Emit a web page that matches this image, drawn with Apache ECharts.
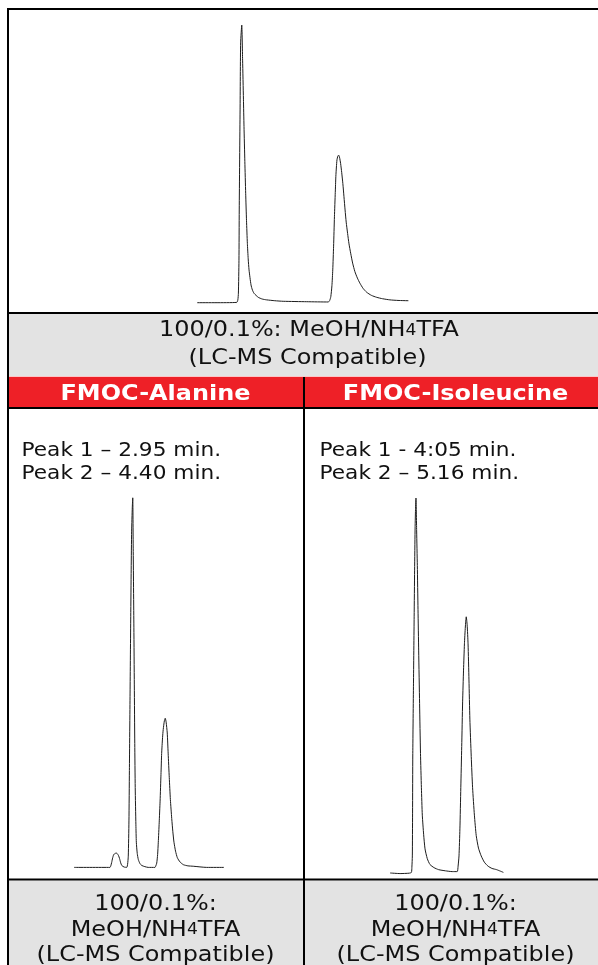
<!DOCTYPE html>
<html>
<head>
<meta charset="utf-8">
<script src="https://cdn.jsdelivr.net/npm/echarts@6/dist/echarts.min.js"></script>
<style>
html,body{margin:0;padding:0;background:#ffffff;}
#chart{width:598px;height:965px;}
</style>
</head>
<body>
<div id="chart"></div>
<script>
// ---- Data ----
// Top chromatogram (arbitrary time units, relative signal)
const topTime   = [1.33, 2.00, 2.74, 2.78, 2.80, 2.82, 2.83, 2.86, 2.88, 2.92, 2.95, 2.98, 3.00, 3.03, 3.06, 3.09, 3.12, 3.15, 3.18, 3.25, 3.30, 3.36, 3.51, 3.65, 3.81, 4.10, 4.40, 5.24, 6.01, 6.06, 6.10, 6.14, 6.17, 6.20, 6.23, 6.26, 6.28, 6.30, 6.32, 6.35, 6.38, 6.41, 6.45, 6.49, 6.53, 6.57, 6.61, 6.65, 6.70, 6.75, 6.81, 6.88, 6.96, 7.05, 7.14, 7.25, 7.38, 7.55, 7.74, 7.95, 8.21, 8.50, 8.87];
const topSignal = [0.0, 0.0, 0.1, 1.0, 3.4, 15.0, 32.8, 68.2, 91.9, 98.2, 85.8, 72.0, 62.3, 50.0, 38.7, 29.0, 21.0, 15.5, 11.6, 6.3, 4.5, 3.3, 1.9, 1.3, 1.0, 0.7, 0.5, 0.35, 0.25, 0.8, 2.1, 6.0, 11.6, 20.0, 30.4, 39.0, 44.6, 48.0, 50.5, 51.8, 52.2, 51.5, 49.3, 46.0, 42.2, 37.5, 32.8, 28.5, 24.5, 20.8, 17.5, 14.0, 11.0, 8.7, 6.9, 5.1, 3.7, 2.6, 1.9, 1.4, 1.0, 0.8, 0.7];

// FMOC-Alanine (minutes, relative signal)
const alaTime   = [0.32, 1.92, 1.96, 2.00, 2.04, 2.09, 2.15, 2.20, 2.24, 2.30, 2.35, 2.40, 2.45, 2.55, 2.67, 2.71, 2.74, 2.77, 2.79, 2.82, 2.85, 2.87, 2.89, 2.92, 2.94, 2.96, 2.99, 3.01, 3.03, 3.05, 3.08, 3.10, 3.14, 3.19, 3.26, 3.34, 3.48, 3.63, 3.93, 3.97, 4.01, 4.05, 4.08, 4.12, 4.16, 4.20, 4.23, 4.27, 4.30, 4.35, 4.39, 4.43, 4.48, 4.52, 4.57, 4.62, 4.68, 4.73, 4.78, 4.85, 4.93, 5.05, 5.20, 5.40, 5.64, 6.24, 7.01];
const alaSignal = [0, 0, 0.4, 1.3, 2.4, 3.3, 3.6, 3.7, 3.6, 3.1, 2.3, 1.2, 0.5, 0.1, 0, 0.8, 2.9, 12.0, 25.0, 45.0, 64.7, 77.0, 86.8, 93.0, 95.4, 82.4, 62.0, 47.1, 32.0, 20.6, 11.0, 6.5, 3.6, 2.0, 1.0, 0.5, 0.2, 0, 0, 0.4, 1.1, 3.3, 6.5, 11.5, 17.1, 24.0, 29.4, 33.5, 35.6, 37.8, 38.5, 37.5, 34.7, 29.5, 23.2, 17.5, 12.6, 9.2, 6.5, 4.2, 2.5, 1.4, 0.7, 0.4, 0.3, 0, 0];

// FMOC-Isoleucine (minutes, relative signal)
const ileTime   = [3.48, 3.70, 3.90, 3.95, 3.96, 3.97, 3.975, 3.98, 3.995, 4.01, 4.02, 4.03, 4.04, 4.05, 4.065, 4.08, 4.095, 4.11, 4.13, 4.15, 4.17, 4.19, 4.22, 4.25, 4.30, 4.36, 4.45, 4.55, 4.70, 4.85, 4.96, 4.98, 5.00, 5.02, 5.04, 5.06, 5.08, 5.10, 5.12, 5.14, 5.16, 5.18, 5.20, 5.22, 5.24, 5.27, 5.30, 5.34, 5.38, 5.43, 5.49, 5.56, 5.64, 5.73, 5.83, 5.98];
const ileSignal = [-0.25, -0.4, -0.3, -0.1, 1.2, 4.1, 15.0, 30.2, 48.0, 65.1, 77.0, 87.0, 92.5, 95.4, 87.0, 78.2, 67.0, 56.4, 43.0, 30.2, 21.5, 14.5, 9.5, 5.9, 3.4, 1.9, 1.1, 0.6, 0.3, 0.1, 0.1, 1.5, 4.1, 11.0, 21.5, 32.0, 43.4, 51.5, 58.2, 62.5, 65.1, 63.0, 58.2, 49.0, 39.0, 29.5, 21.5, 14.5, 9.3, 6.1, 4.1, 2.5, 1.5, 0.9, 0.6, -0.1];

// ---- Text ----
const phaseTop    = ['100/0.1%: MeOH/NH4TFA', '(LC-MS Compatible)'];
const compounds   = ['FMOC-Alanine', 'FMOC-Isoleucine'];
const peakNotes   = [['Peak 1 \u2013 2.95 min.', 'Peak 2 \u2013 4.40 min.'],
                     ['Peak 1 - 4:05 min.', 'Peak 2 \u2013 5.16 min.']];
const phaseBottom = ['100/0.1%:', 'MeOH/NH4TFA', '(LC-MS Compatible)'];

// ---- Build ----
const chart = echarts.init(document.getElementById('chart'), null, {renderer: 'canvas'});
const FONT = '"DejaVu Sans", Verdana, sans-serif';
const SX = 1.14;
const RED = '#ee2027';
const GRAY = '#e3e3e3';

function zip(a, b) { return a.map((v, i) => [v, b[i]]); }
function sub(s) { return s.replace('NH4', 'NH{s|4}'); }

function txt(str, x, y, size, align, bold) {
  return {
    type: 'text', x: x, y: y, scaleX: SX, silent: true, z: 20,
    style: {
      text: sub(str), x: 0, y: 0,
      font: (bold ? 'bold ' : '') + size + 'px ' + FONT,
      fill: bold ? '#ffffff' : '#111111',
      align: align, textAlign: align,
      verticalAlign: 'middle', textVerticalAlign: 'middle',
      lineHeight: 24,
      rich: { s: { fontSize: 15, fontFamily: FONT, fill: '#111111', lineHeight: 24, verticalAlign: 'middle' } }
    }
  };
}
function rect(x, y, w, h, fill, z) {
  return { type: 'rect', silent: true, z: z || 5, shape: {x: x, y: y, width: w, height: h}, style: {fill: fill} };
}

const L = 7, R = 610, DIV = 303;
const graphics = [
  // fills
  rect(L, 313, R - L, 63, GRAY, 1),
  rect(L, 376.8, R - L, 31, RED, 1),
  rect(L, 880.5, R - L, 100, GRAY, 1),
  // black rules
  rect(L, 8, R - L, 2, '#000'),
  rect(L, 8, 2, 970, '#000'),
  rect(L, 312, R - L, 2, '#000'),
  rect(L, 407, R - L, 2, '#000'),
  rect(L, 878.5, R - L, 2, '#000'),
  rect(DIV, 377, 2, 600, '#000'),
  // texts
  txt(phaseTop[0], 309, 331, 21, 'center'),
  txt(phaseTop[1], 307.5, 359, 21, 'center'),
  txt(compounds[0], 155.5, 395, 21, 'center', true),
  txt(compounds[1], 455.5, 395, 21, 'center', true),
  txt(peakNotes[0][0], 21.5, 451, 19, 'left'),
  txt(peakNotes[0][1], 21.5, 474, 19, 'left'),
  txt(peakNotes[1][0], 319.5, 451, 19, 'left'),
  txt(peakNotes[1][1], 319.5, 474, 19, 'left'),
  txt(phaseBottom[0], 155.5, 904.5, 21, 'center'),
  txt(phaseBottom[1], 155.5, 930.5, 21, 'center'),
  txt(phaseBottom[2], 155.5, 955.5, 21, 'center'),
  txt(phaseBottom[0], 455.5, 904.5, 21, 'center'),
  txt(phaseBottom[1], 455.5, 930.5, 21, 'center'),
  txt(phaseBottom[2], 455.5, 955.5, 21, 'center')
];

const grids = [
  {left: 160, top: 20, width: 280, height: 282.7},
  {left: 66.9, top: 480, width: 179.2, height: 387.4},
  {left: 368.4, top: 480, width: 181.2, height: 392}
];
const xRanges = [[0, 10], [0, 8], [3, 7]];

function line(i, data) {
  return {
    type: 'line', xAxisIndex: i, yAxisIndex: i, data: data,
    showSymbol: false, symbol: 'none', clip: false, animation: false,
    smooth: 0.2,
    lineStyle: {color: '#1c1c1c', width: 1}
  };
}

chart.setOption({
  animation: false,
  backgroundColor: '#ffffff',
  grid: grids.map(g => Object.assign({containLabel: false}, g)),
  xAxis: xRanges.map((r, i) => ({type: 'value', gridIndex: i, min: r[0], max: r[1], show: false})),
  yAxis: grids.map((g, i) => ({type: 'value', gridIndex: i, min: 0, max: 100, show: false})),
  series: [
    line(0, zip(topTime, topSignal)),
    line(1, zip(alaTime, alaSignal)),
    line(2, zip(ileTime, ileSignal))
  ],
  graphic: graphics
});
</script>
</body>
</html>
